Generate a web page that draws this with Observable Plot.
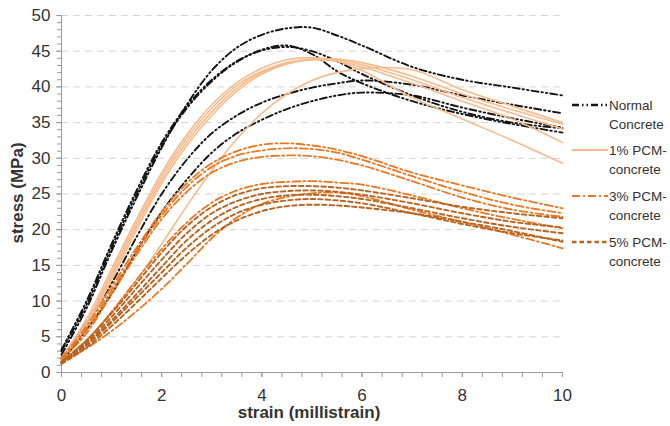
<!DOCTYPE html>
<html>
<head>
<meta charset="utf-8">
<script src="https://cdn.jsdelivr.net/npm/d3@7"></script>
<script src="https://cdn.jsdelivr.net/npm/@observablehq/plot@0.6"></script>
<style>
  html, body { margin: 0; padding: 0; background: #fff; overflow: hidden; }
  #wrap { position: relative; width: 670px; height: 426px; overflow: hidden; }
  #legend { position: absolute; left: 0; top: 0; pointer-events: none; }
</style>
</head>
<body>
<div id="wrap"><div id="chart"></div><svg id="legend" width="670" height="426"></svg></div>
<script>
// strain grid (millistrain) shared by every curve
const strain = [0, 0.5, 1, 1.5, 2, 2.5, 3, 3.5, 4, 4.5, 5, 5.5, 6, 7, 8, 9, 10];

// Normal concrete (stress, MPa)
const normal1 = [2.5, 9, 17, 24.5, 31.5, 37.5, 42.3, 45.5, 47.3, 48.2, 48.3, 47.2, 45.8, 42.8, 41.0, 39.9, 38.8];
const normal2 = [3, 9.5, 17.5, 25, 31.8, 37, 40.8, 43.5, 45.2, 45.8, 44.6, 42.2, 40.5, 38, 36.2, 34.8, 33.6];
const normal3 = [2, 7, 12.5, 19, 25, 29.8, 33.5, 36, 37.8, 39, 39.9, 40.5, 40.9, 40.3, 38.8, 37.5, 36.3];
const normal4 = [1.5, 6, 11, 17, 22.5, 27, 30.8, 33.5, 35.4, 36.9, 38, 38.8, 39.2, 38.8, 37.1, 35.6, 34.3];
const normal5 = [3.2, 10, 18, 25.5, 32.2, 37.3, 41, 43.6, 45.1, 45.6, 45.0, 43.6, 41.8, 38.8, 36.5, 35.0, 34.2];

// 1% PCM-concrete
const pcm1a = [2, 7.5, 14.5, 21.5, 28, 33.3, 37.5, 40.6, 42.6, 43.8, 44.1, 43.6, 42.3, 38.5, 35.5, 32.5, 29.3];
const pcm1b = [2, 7, 14, 21, 27.5, 32.8, 37, 40.2, 42.2, 43.4, 43.8, 43.6, 42.8, 40.5, 38, 35.5, 32.2];
const pcm1c = [1.8, 6.8, 13.5, 20.5, 27, 32.3, 36.5, 39.8, 42, 43.3, 43.9, 43.8, 43.1, 41, 38.5, 36.3, 34.1];
const pcm1d = [1.8, 6.5, 13, 20, 26.5, 31.8, 36, 39.4, 41.8, 43.2, 43.8, 43.9, 43.4, 41.5, 39, 36.8, 34.8];
const pcm1e = [1.5, 4.5, 8.5, 13, 18, 23.3, 28.3, 32.7, 36.3, 39, 40.9, 42, 42.6, 42.4, 39.6, 37.3, 35.0];

// 3% PCM-concrete
const pcm3a = [2, 6.5, 12, 17.5, 22.5, 26.5, 29.3, 31, 31.9, 32.1, 31.8, 31.2, 30.3, 28.0, 26.2, 24.5, 23.0];
const pcm3b = [2, 6, 11.5, 17, 22, 26, 28.8, 30.4, 31.1, 31.4, 31.3, 30.8, 29.8, 27.5, 25.3, 23.5, 22.3];
const pcm3c = [1.8, 5.5, 11, 16.5, 21.5, 25.3, 28, 29.5, 30.2, 30.4, 30.3, 29.8, 29, 26.8, 24.5, 22.8, 21.8];
const pcm3d = [1.5, 4.5, 8.5, 13, 17.3, 21, 23.8, 25.5, 26.4, 26.7, 26.8, 26.6, 26.3, 24.8, 23, 21.5, 20.2];
const pcm3e = [1.5, 3.4, 5.8, 8.6, 11.7, 15.2, 18.8, 21.7, 23.6, 24.6, 25.1, 25.2, 24.7, 22.8, 21.1, 19.3, 17.4];

// 5% PCM-concrete
const pcm5a = [1.5, 4.5, 8.3, 12.5, 16.8, 20.5, 23.2, 24.9, 25.8, 26.1, 26.1, 25.9, 25.5, 24.4, 23.2, 22.3, 21.6];
const pcm5b = [1.5, 4.2, 7.8, 11.8, 15.8, 19.5, 22.3, 24, 25, 25.4, 25.5, 25.3, 24.9, 23.7, 22.3, 21.1, 20.3];
const pcm5c = [1.3, 4, 7.3, 11, 14.8, 18.5, 21.3, 23.2, 24.3, 24.8, 24.9, 24.7, 24.3, 23, 21.6, 20.4, 19.5];
const pcm5d = [1.3, 3.8, 7, 10.5, 14, 17.5, 20.3, 22.3, 23.5, 24.1, 24.3, 24.1, 23.7, 22.3, 20.8, 19.5, 18.5];
const pcm5e = [1.2, 3.5, 6.5, 9.8, 13.2, 16.5, 19.3, 21.3, 22.6, 23.3, 23.5, 23.4, 23.1, 22.3, 21.1, 19.8, 18.3];

const yTicks = [0, 5, 10, 15, 20, 25, 30, 35, 40, 45, 50];
const xTicks = [0, 2, 4, 6, 8, 10];

const groups = [
  {name: ["Normal", "Concrete"], curves: [normal1, normal2, normal3, normal4, normal5]},
  {name: ["1% PCM-", "concrete"], curves: [pcm1a, pcm1b, pcm1c, pcm1d, pcm1e]},
  {name: ["3% PCM-", "concrete"], curves: [pcm3a, pcm3b, pcm3c, pcm3d, pcm3e]},
  {name: ["5% PCM-", "concrete"], curves: [pcm5a, pcm5b, pcm5c, pcm5d, pcm5e]}
];
const styles = [
  {stroke: "#141414", dash: "7,3,1.5,3,1.5,3", width: 1.9},
  {stroke: "#F7BB8D", dash: null, width: 1.6},
  {stroke: "#EA7721", dash: "8,3,2,3", width: 1.8},
  {stroke: "#B8631F", dash: "4.5,3", width: 1.9}
];

const rows = [];
groups.forEach((g, gi) => g.curves.forEach((c, ci) => c.forEach((v, i) =>
  rows.push({strain: strain[i], stress: v, id: gi + "-" + ci, g: gi}))));

const lineMarks = styles.map((s, gi) => Plot.line(rows.filter(r => r.g === gi), {
  x: "strain", y: "stress", z: "id", stroke: s.stroke, strokeWidth: s.width,
  strokeDasharray: s.dash, curve: "catmull-rom"
}));

const chart = Plot.plot({
  width: 670, height: 426,
  marginLeft: 61, marginRight: 108, marginTop: 15, marginBottom: 54,
  x: {domain: [0, 10]},
  y: {domain: [0, 50]},
  style: {fontFamily: "'Liberation Sans', Arial, sans-serif", fontSize: "17px", color: "#333", background: "#fff"},
  marks: [
    Plot.gridY(yTicks.filter(d => d > 0), {stroke: "#d4d4d4", strokeOpacity: 1, strokeDasharray: "7,5"}),
    Plot.axisY(d3.range(0, 51, 1), {tickSize: 4, tickFormat: () => "", stroke: "#9a9a9a", label: null}),
    Plot.axisY(yTicks, {tickSize: 5, tickPadding: 6, stroke: "#9a9a9a", fill: "#333", label: null}),
    Plot.axisX(d3.range(0, 10.01, 0.4).map(d => +d.toFixed(1)), {tickSize: 5, tickFormat: () => "", stroke: "#9a9a9a", label: null}),
    Plot.axisX(xTicks, {tickSize: 5, tickPadding: 11, stroke: "#9a9a9a", fill: "#333", label: null}),
    Plot.ruleX([0], {stroke: "#9a9a9a"}),
    Plot.ruleY([0], {stroke: "#9a9a9a"}),
    ...lineMarks
  ]
});
document.getElementById("chart").appendChild(chart);

// axis titles
const svg = d3.select(chart);
svg.append("text").attr("x", 309).attr("y", 418).attr("text-anchor", "middle")
  .attr("font-weight", "bold").attr("font-size", 17).attr("fill", "#333").text("strain (millistrain)");
svg.append("text").attr("transform", "translate(19,193) rotate(-90)").attr("text-anchor", "middle")
  .attr("dominant-baseline", "middle")
  .attr("font-weight", "bold").attr("font-size", 17).attr("fill", "#333").text("stress (MPa)");

// legend
const leg = d3.select("#legend");
const legY = [105, 150, 196, 242];
groups.forEach((g, gi) => {
  const s = styles[gi];
  leg.append("line").attr("x1", 572).attr("x2", 608).attr("y1", legY[gi]).attr("y2", legY[gi])
    .attr("stroke", s.stroke).attr("stroke-width", s.width + 0.4)
    .attr("stroke-dasharray", s.dash);
  const t = leg.append("text").attr("x", 609).attr("y", legY[gi] + 5)
    .attr("font-family", "'Liberation Sans', Arial, sans-serif").attr("font-size", 13.5).attr("fill", "#333");
  t.append("tspan").attr("x", 609).text(g.name[0]);
  t.append("tspan").attr("x", 609).attr("dy", 19).text(g.name[1]);
});
</script>
</body>
</html>
